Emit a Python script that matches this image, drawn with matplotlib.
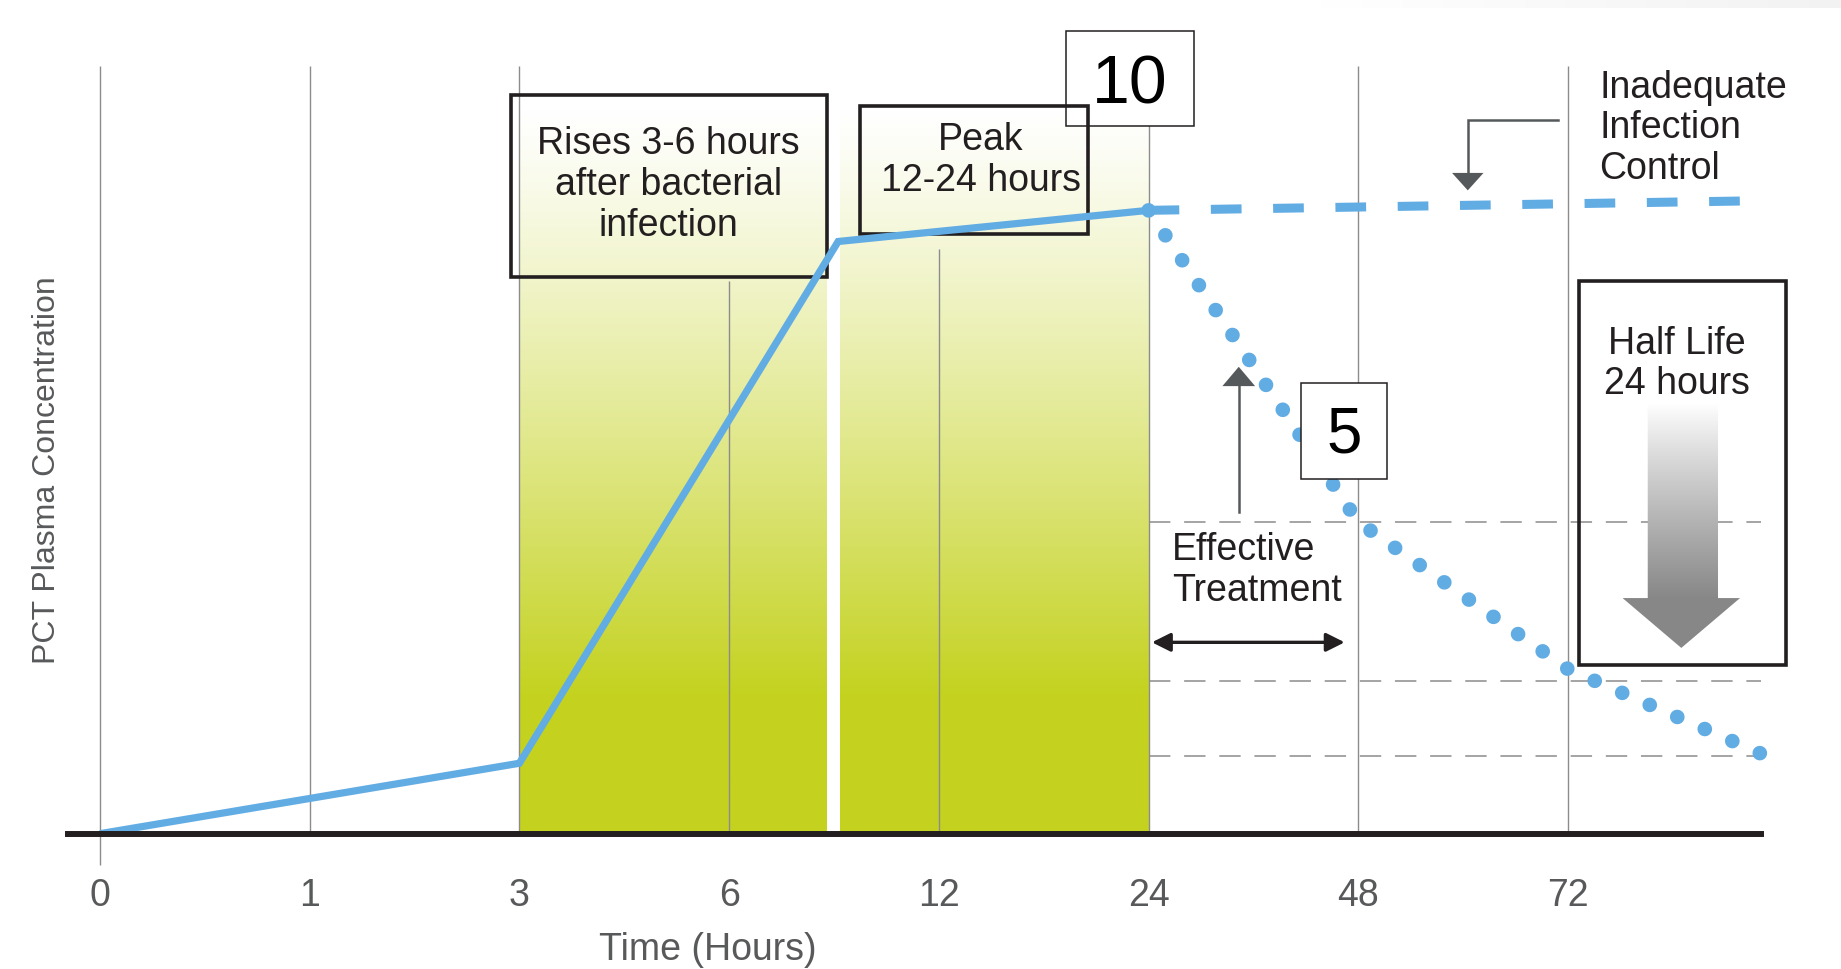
import numpy as np
import matplotlib
matplotlib.use("Agg")
import matplotlib.pyplot as plt
from matplotlib import font_manager
from matplotlib.patches import Rectangle, Polygon

# Time axis is stretched: one slot per tick label
tick_hours = ["0", "1", "3", "6", "12", "24", "48", "72"]
tick_slot = [0, 1, 2, 3, 4, 5, 6, 7]

# PCT rise after infection, up to the peak
rise_slot = [0, 2, 3.52, 5]
rise_conc = [0, 1.13, 9.5, 10.0]

# inadequate infection control: stays on the plateau
plateau_slot = [5, 7.84]
plateau_conc = [10.0, 10.15]

# effective treatment: halves every 24 h
decay_slot = [5, 6, 7, 7.95]
decay_conc = [10.0, 5.0, 2.64, 1.24]

# half-life guide levels
ref_levels = [5.0, 2.45, 1.24]

# shaded phases (rise, peak)
phase_start = [2.0, 3.527]
phase_end = [3.465, 5.0]

BLUE = "#62ace4"
INK = "#231f20"
GREY = "#58595b"
GRID = "#8c8c8c"
GREEN = np.array([0xc4, 0xd2, 0x1f]) / 255

avail = {f.name for f in font_manager.fontManager.ttflist}
NARROW = ["Liberation Sans Narrow", "DejaVu Sans"] if "Liberation Sans Narrow" in avail \
    else ["Liberation Sans", "DejaVu Sans"]
plt.rcParams["font.family"] = NARROW

fig = plt.figure(figsize=(18.41, 9.70), dpi=100)
ax = fig.add_axes([68 / 1841, 135.3 / 970, 1693 / 1841, 834.7 / 970])

# green phase bands, fading to white towards the top
top_v = 11.6
v = np.linspace(0, top_v, 400)
t = np.clip((top_v - v) / 9.4, 0, 1) ** 1.15
grad = (1 - t[:, None]) * 1.0 + t[:, None] * GREEN[None, :]
for a, b in zip(phase_start, phase_end):
    ax.imshow(grad[:, None, :], extent=(a, b, 0, top_v), origin="lower",
              aspect="auto", zorder=1, interpolation="bilinear")

# vertical hour lines (6 h and 12 h start under the boxes)
grid_top = [12.31, 12.31, 12.31, 8.87, 9.38, 12.31, 12.31, 12.31]
grid_bot = [-0.5, 0, 0, 0, 0, 0, 0, 0]
ax.vlines(tick_slot, grid_bot, grid_top, colors=GRID, lw=1.0, zorder=2,
          clip_on=False)

ax.hlines(ref_levels, 5.0, 7.92, colors=GRID, lw=1.1,
          linestyles=[(0, (14, 9))], zorder=2)

# curves
ax.plot(rise_slot, rise_conc, color=BLUE, lw=5.2, solid_joinstyle="miter",
        solid_capstyle="butt", zorder=8)
ax.plot(plateau_slot, plateau_conc, color=BLUE, lw=6.5,
        ls=(0, (3.4, 3.5)), dash_capstyle="butt", zorder=8)
ax.plot(decay_slot, decay_conc, color=BLUE, lw=10.5, ls=(0, (0.01, 2.05)),
        dash_capstyle="round", zorder=8, clip_on=False)

# number boxes
ax.add_patch(Rectangle((4.607, 11.35), 0.611, 1.53, fc="white", ec=INK,
                       lw=1.1, zorder=5, clip_on=False))
ax.text(4.91, 12.02, "10", ha="center", va="center", fontsize=49,
        family=["Liberation Sans", "DejaVu Sans"], color="black", zorder=6)
ax.add_patch(Rectangle((5.728, 5.69), 0.41, 1.54, fc="white", ec=INK,
                       lw=1.1, zorder=9))
ax.text(5.933, 6.40, "5", ha="center", va="center", fontsize=46,
        family=["Liberation Sans", "DejaVu Sans"], color="black", zorder=10)

# annotation boxes
box_kw = dict(fill=False, ec=INK, lw=2.6, zorder=7, clip_on=False)
ax.add_patch(Rectangle((1.962, 8.93), 1.506, 2.92, **box_kw))
ax.add_patch(Rectangle((3.622, 9.62), 1.09, 2.05, **box_kw))
ax.add_patch(Rectangle((7.05, 2.71), 0.99, 6.16, **box_kw))

txt_kw = dict(ha="center", va="center", fontsize=27, color=INK,
              linespacing=1.17, zorder=7)
ax.text(2.71, 10.42, "Rises 3-6 hours\nafter bacterial\ninfection", **txt_kw)
ax.text(4.20, 10.81, "Peak\n12-24 hours", **txt_kw)
ax.text(7.52, 7.55, "Half Life\n24 hours", clip_on=False, **txt_kw)
ax.text(7.15, 11.33, "Inadequate\nInfection\nControl", ha="left",
        va="center", fontsize=27, color=INK, linespacing=1.17,
        clip_on=False)
ax.text(5.11, 4.24, "Effective\nTreatment", ha="left", va="center",
        fontsize=27, color=INK, linespacing=1.17)

# pointer to the plateau
ax.plot([6.953, 6.522, 6.522], [11.45, 11.45, 10.6], color="#55595b",
        lw=1.8, zorder=6, solid_joinstyle="miter")
ax.add_patch(Polygon([(6.447, 10.6), (6.597, 10.6), (6.522, 10.32)],
                     fc="#55595b", ec="none", zorder=6))

# pointer up from effective treatment
ax.plot([5.43, 5.43], [5.16, 7.18], color="#55595b", lw=1.8, zorder=6)
ax.add_patch(Polygon([(5.352, 7.18), (5.508, 7.18), (5.43, 7.49)],
                     fc="#55595b", ec="none", zorder=6))

# treatment window
ax.annotate("", xy=(5.016, 3.07), xytext=(5.935, 3.07),
            arrowprops=dict(arrowstyle="<|-|>", lw=2.4, color=INK,
                            mutation_scale=28, shrinkA=0, shrinkB=0),
            zorder=6)

# shaded half-life arrow
arrow_pts = [(7.38, 6.89), (7.715, 6.89), (7.715, 3.78), (7.82, 3.78),
             (7.54, 2.98), (7.26, 3.78), (7.38, 3.78)]
arrow = Polygon(arrow_pts, closed=True, fc="none", ec="none",
                transform=ax.transData)
ax.add_patch(arrow)
av = np.linspace(0, 1, 300)
shade = np.clip(1.0 - 0.47 * np.clip(av / 0.8, 0, 1) ** 0.9, 0, 1)
arr_img = ax.imshow(np.repeat(shade[:, None], 3, axis=1)[:, :, None] *
                    np.ones((1, 1, 3)), extent=(7.26, 7.82, 2.98, 6.89),
                    origin="upper", aspect="auto", zorder=4,
                    interpolation="bilinear")
arr_img.set_clip_path(arrow)

ax.set_xlim(-0.152, 7.92)
ax.set_ylim(0, 13.39)
for side in ("left", "right", "top"):
    ax.spines[side].set_visible(False)
ax.spines["bottom"].set_linewidth(4.3)
ax.spines["bottom"].set_color(INK)
ax.spines["bottom"].set_zorder(9)
ax.set_xticks(tick_slot, tick_hours)
ax.set_yticks([])
ax.tick_params(axis="x", length=0, pad=31, labelsize=27, labelcolor=GREY)
ax.text(2.90, -1.85, "Time (Hours)", ha="center", va="center", fontsize=27,
        color=GREY, clip_on=False)
fig.text(47 / 1841, 500 / 970, "PCT Plasma Concentration", rotation=90,
         ha="center", va="center", fontsize=23, color=GREY)

# faint band along the top right edge
band = fig.add_axes([1320 / 1841, 1 - 9 / 970, 521 / 1841, 9 / 970])
hb = np.linspace(1.0, 0.95, 200)
band.imshow(np.repeat(hb[None, :, None], 3, axis=2), aspect="auto")
band.axis("off")

fig.savefig("out.png", dpi=100)
